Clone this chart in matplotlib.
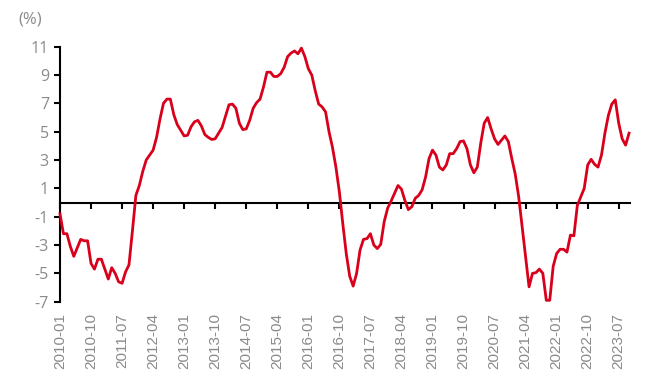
import matplotlib
matplotlib.use("Agg")
import matplotlib.pyplot as plt
import numpy as np

# monthly values 2010-01 .. 2023-10
values = [
    -0.8, -2.2, -2.2, -3.1, -3.8, -3.2, -2.6, -2.7, -2.7, -4.3,
    -4.7, -4.0, -4.0, -4.7, -5.4, -4.6, -5.0, -5.6, -5.7, -4.9,
    -4.4, -2.0, 0.5, 1.2, 2.2, 3.0, 3.35, 3.7, 4.6, 5.9,
    7.0, 7.3, 7.3, 6.2, 5.5, 5.1, 4.7, 4.75, 5.35, 5.7,
    5.8, 5.4, 4.8, 4.6, 4.45, 4.5, 4.9, 5.3, 6.1, 6.9,
    6.95, 6.65, 5.6, 5.15, 5.2, 5.8, 6.65, 7.05, 7.3, 8.15,
    9.2, 9.2, 8.9, 8.9, 9.1, 9.55, 10.3, 10.55, 10.7, 10.5,
    10.9, 10.3, 9.45, 9.0, 7.9, 6.95, 6.75, 6.4, 5.0, 3.9,
    2.5, 0.75, -1.5, -3.6, -5.2, -5.9, -5.0, -3.35, -2.6, -2.55,
    -2.2, -3.0, -3.25, -2.95, -1.35, -0.4, 0.1, 0.65, 1.2, 0.95,
    0.15, -0.5, -0.3, 0.3, 0.5, 0.9, 1.8, 3.1, 3.7, 3.35,
    2.5, 2.3, 2.65, 3.45, 3.45, 3.8, 4.3, 4.35, 3.8, 2.65,
    2.1, 2.5, 4.2, 5.6, 6.0, 5.2, 4.5, 4.1, 4.4, 4.7,
    4.3, 3.1, 2.0, 0.4, -1.7, -3.8, -5.95, -5.0, -4.95, -4.7,
    -5.0, -6.9, -6.9, -4.5, -3.6, -3.3, -3.3, -3.5, -2.3, -2.35,
    -0.2, 0.4, 1.0, 2.65, 3.05, 2.7, 2.5, 3.35, 4.9, 6.15,
    6.95, 7.25, 5.6, 4.5, 4.05, 4.9,
]
months = [f"{2010 + k // 12}-{k % 12 + 1:02d}" for k in range(len(values))]
tick_labels = months[::9]
y_ticks = [-7, -5, -3, -1, 1, 3, 5, 7, 9, 11]

GRAY = "#8a8a8a"
RED = "#d9001b"

fig = plt.figure(figsize=(6.46, 3.91), dpi=100)
W, H = 646, 391
ax = fig.add_axes([60 / W, (H - 301.7) / H, 570.1 / W, 255 / H])

x = np.arange(len(values))
ax.plot(x, values, color=RED, lw=2.0, solid_joinstyle="round", clip_on=False, zorder=3)

ax.set_xlim(0, 165.3)
ax.set_ylim(-7, 11)

for s in ["top", "right"]:
    ax.spines[s].set_visible(False)
ax.spines["left"].set_linewidth(1.5)
ax.spines["left"].set_color("black")
ax.spines["bottom"].set_position(("data", 0))
ax.spines["bottom"].set_linewidth(1.5)
ax.spines["bottom"].set_color("black")
ax.spines["bottom"].set_zorder(2)

ax.set_yticks(y_ticks)
ax.set_yticklabels([str(v) for v in y_ticks], family=["Open Sans", "DejaVu Sans"])
ax.tick_params(axis="y", direction="out", length=4.5, width=1.5, color="black",
               labelcolor=GRAY, labelsize=11.5, pad=3.5)

tick_pos = x[::9]
ax.set_xticks(tick_pos)
ax.tick_params(axis="x", direction="out", length=4, width=1.5, color="black",
               labelbottom=False)

sec = ax.secondary_xaxis(-0.0)
sec.set_xticks(tick_pos)
sec.set_xticklabels(tick_labels, rotation=90, family=["Liberation Sans", "DejaVu Sans"])
sec.tick_params(axis="x", length=0, pad=8, labelcolor=GRAY, labelsize=11)
sec.spines["bottom"].set_visible(False)

fig.text(30 / W, 1 - 19.5 / H, "(%)", color=GRAY, fontsize=12, ha="center", va="center",
         family=["Open Sans", "DejaVu Sans"])

fig.savefig("out.png", dpi=100)
